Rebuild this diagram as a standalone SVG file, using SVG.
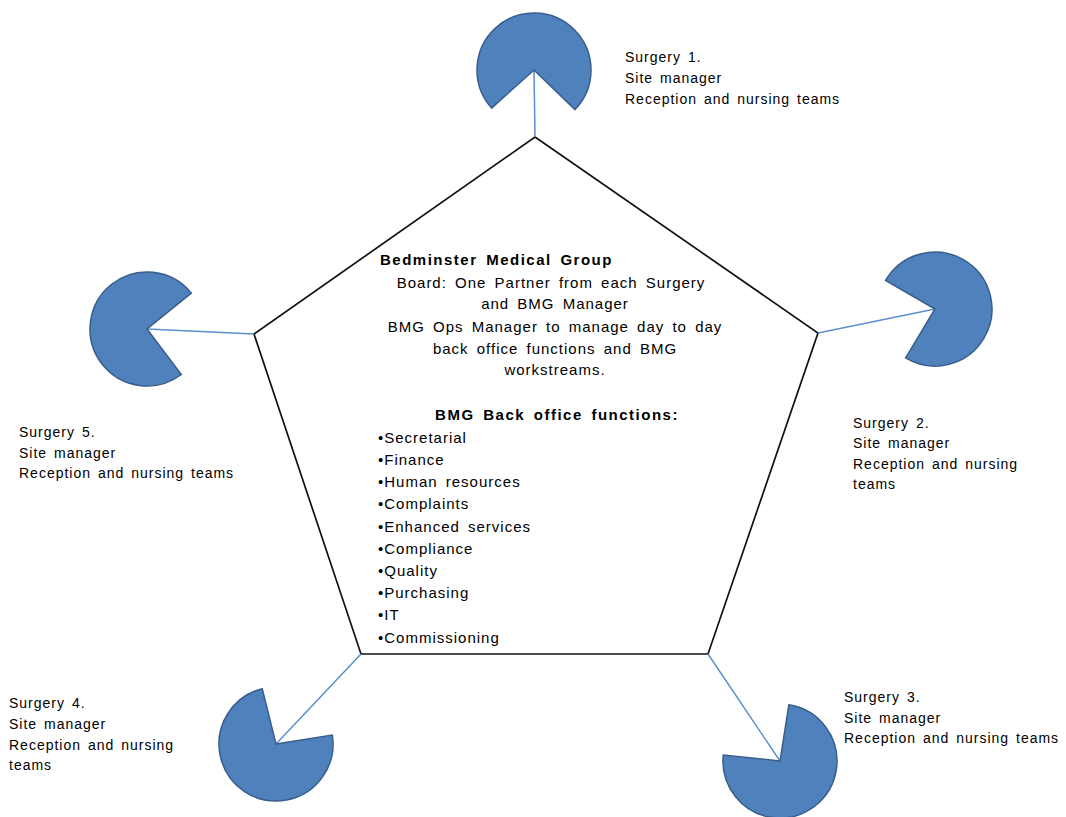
<svg xmlns="http://www.w3.org/2000/svg" width="1066" height="817" viewBox="0 0 1066 817">
<style>
.pie{fill:#4f81bd;stroke:#385d8a;stroke-width:1.5}
.con{stroke:#5b8fd0;stroke-width:1.5;fill:none}
.pent{fill:#fff;stroke:#111;stroke-width:1.7}
.lbl{font-family:"Liberation Sans",Arial,sans-serif;font-size:14px;letter-spacing:1px;word-spacing:2px;fill:#000}
.ctr{font-family:"Liberation Sans",Arial,sans-serif;font-size:15px;letter-spacing:1px;word-spacing:3px;fill:#000}
.b{font-weight:bold;letter-spacing:1.5px}
.m{text-anchor:middle}
</style>
<rect width="1066" height="817" fill="#fff"/>
<g id="center">
<polygon class="pent" points="535,137 818,333 708,654 361,654 254,334"/>
<text class="ctr b" x="380" y="265">Bedminster Medical Group</text>
<text class="ctr m" x="551" y="288">Board: One Partner from each Surgery</text>
<text class="ctr m" x="555" y="309">and BMG Manager</text>
<text class="ctr m" x="555" y="332">BMG Ops Manager to manage day to day</text>
<text class="ctr m" x="555" y="354">back office functions and BMG</text>
<text class="ctr m" x="555" y="375">workstreams.</text>
<text class="ctr b m" x="557" y="420">BMG Back office functions:</text>
<text class="ctr" x="378" y="443">•Secretarial</text>
<text class="ctr" x="378" y="465">•Finance</text>
<text class="ctr" x="378" y="487">•Human resources</text>
<text class="ctr" x="378" y="509">•Complaints</text>
<text class="ctr" x="378" y="532">•Enhanced services</text>
<text class="ctr" x="378" y="554">•Compliance</text>
<text class="ctr" x="378" y="576">•Quality</text>
<text class="ctr" x="378" y="598">•Purchasing</text>
<text class="ctr" x="378" y="620">•IT</text>
<text class="ctr" x="378" y="643">•Commissioning</text>
</g>
<g id="connectors">
<line class="con" x1="534" y1="70" x2="535" y2="137"/>
<line class="con" x1="935" y1="309" x2="818" y2="333"/>
<line class="con" x1="147" y1="329" x2="254" y2="334"/>
<line class="con" x1="276" y1="744" x2="361" y2="654"/>
<line class="con" x1="780" y1="761" x2="708" y2="654"/>
</g>
<g id="surgery1">
<path class="pie" d="M534 70 L491.6 108.1 A57 57 0 1 1 575 109.6 Z"/>
<text class="lbl" x="625" y="62">Surgery 1.</text>
<text class="lbl" x="625" y="83">Site manager</text>
<text class="lbl" x="625" y="104">Reception and nursing teams</text>
</g>
<g id="surgery2">
<path class="pie" d="M935 309 L885.6 280.5 A57 57 0 1 1 905.6 357.9 Z"/>
<text class="lbl" x="853" y="428">Surgery 2.</text>
<text class="lbl" x="853" y="448">Site manager</text>
<text class="lbl" x="853" y="469">Reception and nursing</text>
<text class="lbl" x="853" y="489">teams</text>
</g>
<g id="surgery3">
<path class="pie" d="M780 761 L788.9 704.7 A57 57 0 1 1 723.3 755 Z"/>
<text class="lbl" x="844" y="702">Surgery 3.</text>
<text class="lbl" x="844" y="723">Site manager</text>
<text class="lbl" x="844" y="743">Reception and nursing teams</text>
</g>
<g id="surgery4">
<path class="pie" d="M276 744 L332.3 735.1 A57 57 0 1 1 262.2 688.7 Z"/>
<text class="lbl" x="9" y="708">Surgery 4.</text>
<text class="lbl" x="9" y="729">Site manager</text>
<text class="lbl" x="9" y="750">Reception and nursing</text>
<text class="lbl" x="9" y="770">teams</text>
</g>
<g id="surgery5">
<path class="pie" d="M147 329 L181.3 374.5 A57 57 0 1 1 191.3 293.1 Z"/>
<text class="lbl" x="19" y="437">Surgery 5.</text>
<text class="lbl" x="19" y="458">Site manager</text>
<text class="lbl" x="19" y="478">Reception and nursing teams</text>
</g>
</svg>
